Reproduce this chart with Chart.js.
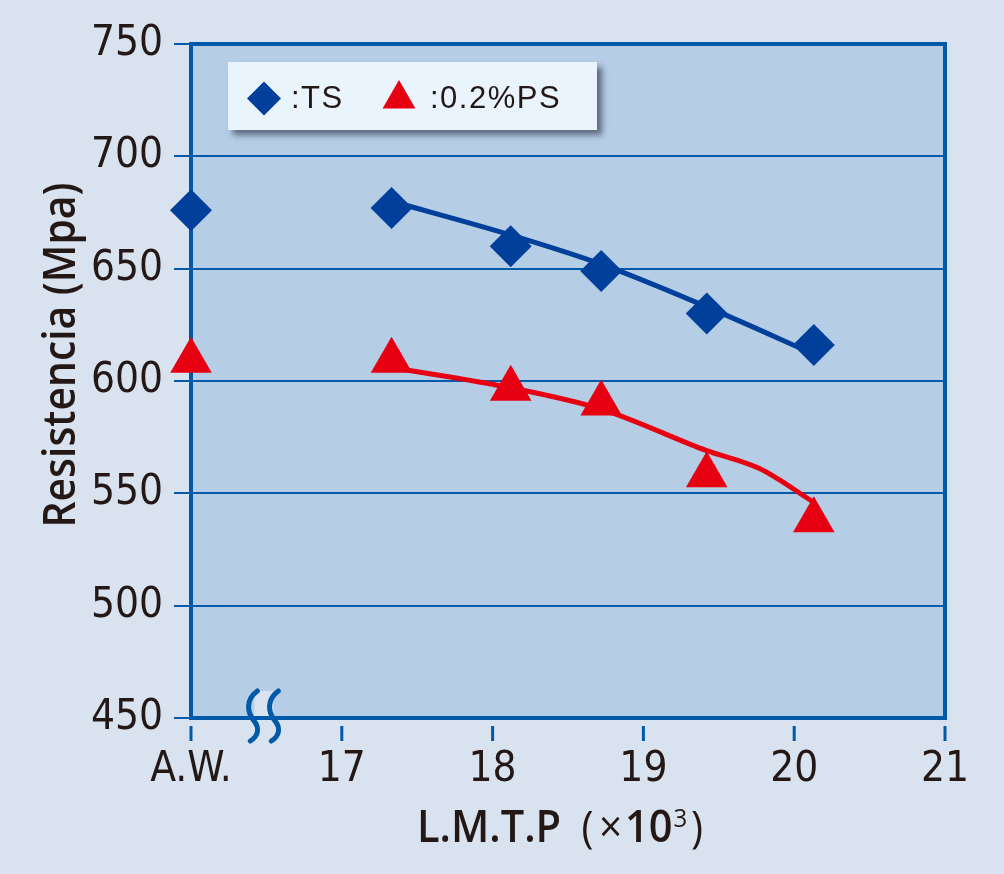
<!DOCTYPE html>
<html>
<head>
<meta charset="utf-8">
<script src="https://cdn.jsdelivr.net/npm/chart.js@4.4.1/dist/chart.umd.min.js"></script>
<style>
  html, body { margin: 0; padding: 0; background: #d9e3ef; }
  #wrap { width: 1004px; height: 874px; }
</style>
</head>
<body>
<div id="wrap"><canvas id="chart" width="1004" height="874"></canvas></div>
<script>
// L.M.T.P (x10^3) - the first point sits on the "A.W." slot (16)
const lmtp = [16, 17.33, 18.12, 18.72, 19.42, 20.13];
const tsValues = [676, 677, 660, 649, 630, 616];
const psValues = [609, 609, 596.5, 590, 558, 538];

// fitted curves, drawn without markers
const tsFitX = [17.33, 18.12, 18.72, 19.42, 20.13];
const tsFit = [680, 665, 652, 633, 612];
const psFitX = [17.33, 18.12, 18.72, 19.42, 19.77, 20.13];
const psFit = [606, 597, 587.5, 569, 561, 546];

const xTicks = [16, 17, 18, 19, 20, 21];
const xTickLabels = ['A.W.', '17', '18', '19', '20', '21'];
const yTicks = [450, 500, 550, 600, 650, 700, 750];

const seriesNames = [':TS', ':0.2%PS'];
const yTitle = 'Resistencia (Mpa)';

const BG = '#d9e3ef';
const PLOT_BG = '#b6cde6';
const AXIS = '#0059a9';
const BLUE = '#00409a';
const RED = '#e60012';
const TEXT = '#231815';
const NARROW = '"Liberation Sans Narrow", "DejaVu Sans Condensed", sans-serif';
const TITLE_FONT = '"Open Sans", "Noto Sans", sans-serif';

const toPoints = (xs, ys) => xs.map((x, i) => ({ x: x, y: ys[i] }));

// page + plot background, top/right frame, x tick marks
const backdrop = {
    id: 'backdrop',
    beforeDraw(chart) {
        const { ctx, chartArea: a } = chart;
        ctx.save();
        ctx.fillStyle = BG;
        ctx.fillRect(0, 0, chart.width, chart.height);
        ctx.fillStyle = PLOT_BG;
        ctx.fillRect(a.left, a.top, a.right - a.left, a.bottom - a.top);
        ctx.restore();
    },
    beforeDatasetsDraw(chart) {
        const { ctx, chartArea: a } = chart;
        ctx.save();
        ctx.strokeStyle = AXIS;
        ctx.lineWidth = 4;
        ctx.beginPath();
        ctx.moveTo(a.left - 2, a.top);
        ctx.lineTo(a.right, a.top);
        ctx.lineTo(a.right, a.bottom + 2);
        ctx.stroke();
        const xs = chart.scales.x;
        ctx.lineWidth = 3;
        xs.ticks.forEach(t => {
            const px = xs.getPixelForValue(t.value);
            ctx.beginPath();
            ctx.moveTo(px, a.bottom + 8);
            ctx.lineTo(px, a.bottom + 23);
            ctx.stroke();
        });
        ctx.restore();
    }
};

// axis break, legend box, axis titles
const extras = {
    id: 'extras',
    afterDatasetsDraw(chart) {
        const { ctx, chartArea: a } = chart;
        const xs = chart.scales.x;
        ctx.save();

        // break mark on the x axis
        const x0 = xs.getPixelForValue(16.4);
        ctx.fillStyle = BG;
        ctx.fillRect(x0 + 3, a.bottom - 27, 19, 25);
        ctx.strokeStyle = AXIS;
        ctx.lineWidth = 5;
        ctx.lineCap = 'round';
        [0, 21].forEach(dx => {
            const bx = x0 + dx;
            ctx.beginPath();
            ctx.moveTo(bx + 6, a.bottom - 27);
            ctx.bezierCurveTo(bx - 6, a.bottom - 18, bx - 4, a.bottom - 6, bx + 2, a.bottom + 2);
            ctx.bezierCurveTo(bx + 9, a.bottom + 10, bx + 7, a.bottom + 18, bx - 1, a.bottom + 23);
            ctx.stroke();
        });

        // legend
        const bx = a.left + 37, by = a.top + 18, bw = 369, bh = 68;
        ctx.save();
        ctx.shadowColor = 'rgba(30, 40, 60, 0.6)';
        ctx.shadowBlur = 6;
        ctx.shadowOffsetX = 5;
        ctx.shadowOffsetY = 5;
        ctx.fillStyle = '#e9f4fc';
        ctx.fillRect(bx, by, bw, bh);
        ctx.restore();

        const items = [
            { ds: 0, style: 'rectRot', r: 17, mx: 73, my: 54.5, tx: 100 },
            { ds: 1, style: 'triangle', r: 19, mx: 208, my: 55, tx: 239 }
        ];
        items.forEach(it => {
            const d = chart.data.datasets[it.ds];
            ctx.fillStyle = d.backgroundColor;
            Chart.helpers.drawPoint(ctx, { pointStyle: it.style, radius: it.r, rotation: 0, borderWidth: 0 },
                a.left + it.mx, a.top + it.my);
            ctx.fillStyle = TEXT;
            ctx.font = '31px "Liberation Sans", Arial, sans-serif';
            ctx.letterSpacing = '1.5px';
            ctx.textAlign = 'left';
            ctx.textBaseline = 'alphabetic';
            ctx.fillText(d.label, a.left + it.tx, a.top + 64);
        });
        ctx.letterSpacing = '0px';

        // y title, squeezed to the reference length
        ctx.save();
        ctx.translate(a.left - 129, (a.top + a.bottom) / 2 - 26);
        ctx.rotate(-Math.PI / 2);
        ctx.font = '600 46px ' + TITLE_FONT;
        const yw = ctx.measureText(yTitle).width;
        ctx.scale(345 / yw, 1);
        ctx.fillStyle = TEXT;
        ctx.textAlign = 'center';
        ctx.textBaseline = 'middle';
        ctx.fillText(yTitle, 0, 0);
        ctx.restore();

        // x title: L.M.T.P (x10^3)
        const parts = [
            { t: 'L.M.T.P', f: '600 45px ' + TITLE_FONT, gap: 22 },
            { t: '(', f: '400 44px ' + TITLE_FONT, gap: 6 },
            { t: '\u00d7', f: '400 44px ' + TITLE_FONT, gap: 3 },
            { t: '10', f: '600 45px ' + TITLE_FONT, gap: 1 },
            { t: '3', f: '400 26px ' + TITLE_FONT, gap: 4, dy: -15 },
            { t: ')', f: '400 44px ' + TITLE_FONT, gap: 0 }
        ];
        let total = 0;
        parts.forEach(p => {
            ctx.font = p.f;
            total += ctx.measureText(p.t).width + p.gap;
        });
        ctx.save();
        ctx.translate(a.left + 226, a.bottom + 124);
        ctx.scale(286 / total, 1);
        ctx.fillStyle = TEXT;
        ctx.textAlign = 'left';
        ctx.textBaseline = 'alphabetic';
        let cx = 0;
        parts.forEach(p => {
            ctx.font = p.f;
            ctx.fillText(p.t, cx, p.dy || 0);
            cx += ctx.measureText(p.t).width + p.gap;
        });
        ctx.restore();

        ctx.restore();
    }
};

new Chart(document.getElementById('chart'), {
    type: 'line',
    data: {
        datasets: [
            {
                label: seriesNames[0],
                data: toPoints(lmtp, tsValues),
                showLine: false,
                pointStyle: 'rectRot',
                pointRadius: 21,
                pointHoverRadius: 21,
                pointBorderWidth: 0,
                backgroundColor: BLUE,
                borderColor: BLUE,
                clip: false
            },
            {
                label: seriesNames[1],
                data: toPoints(lmtp, psValues),
                showLine: false,
                pointStyle: 'triangle',
                pointRadius: 24,
                pointHoverRadius: 24,
                pointBorderWidth: 0,
                backgroundColor: RED,
                borderColor: RED,
                clip: false
            },
            {
                label: 'TS fit',
                data: toPoints(tsFitX, tsFit),
                borderColor: BLUE,
                borderWidth: 5,
                pointRadius: 0,
                cubicInterpolationMode: 'monotone',
                fill: false
            },
            {
                label: 'PS fit',
                data: toPoints(psFitX, psFit),
                borderColor: RED,
                borderWidth: 5,
                pointRadius: 0,
                cubicInterpolationMode: 'monotone',
                fill: false
            }
        ]
    },
    options: {
        responsive: false,
        animation: false,
        layout: { padding: { top: 44, right: 59, left: 0, bottom: 0 } },
        plugins: { legend: { display: false }, tooltip: { enabled: false } },
        scales: {
            x: {
                type: 'linear',
                min: 16,
                max: 21,
                afterBuildTicks: s => { s.ticks = xTicks.map(v => ({ value: v })); },
                afterFit: s => { s.height = 156; },
                grid: { display: false, drawTicks: false },
                border: { display: true, color: AXIS, width: 4 },
                ticks: {
                    padding: 27,
                    color: TEXT,
                    font: { family: NARROW, size: 42 },
                    maxRotation: 0,
                    callback: v => xTickLabels[xTicks.indexOf(v)]
                }
            },
            y: {
                type: 'linear',
                min: 450,
                max: 750,
                afterBuildTicks: s => { s.ticks = yTicks.map(v => ({ value: v })); },
                afterFit: s => { s.width = 191; },
                grid: { color: AXIS, lineWidth: 2, tickLength: 17 },
                border: { display: true, color: AXIS, width: 4 },
                ticks: {
                    padding: 11,
                    color: TEXT,
                    font: { family: NARROW, size: 42 }
                }
            }
        }
    },
    plugins: [backdrop, extras]
});
</script>
</body>
</html>
